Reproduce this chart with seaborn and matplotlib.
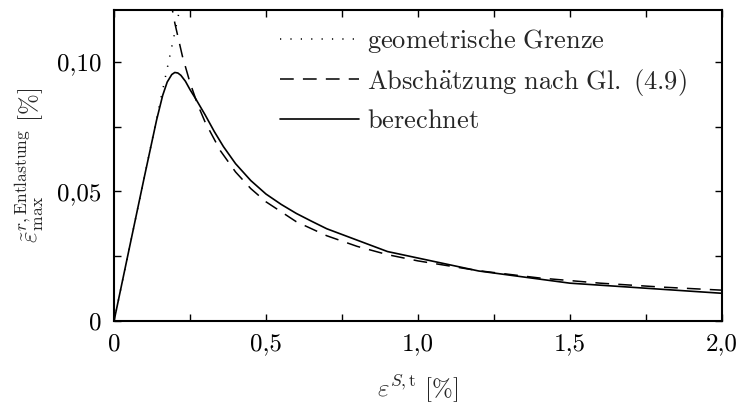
import numpy as np
import pandas as pd
import matplotlib
matplotlib.use("Agg")
import matplotlib.pyplot as plt
import seaborn as sns

# --- data ---
geo_x = [0.0, 0.22]
geo_y = [0.0, 0.1225]

est_x = [0.185, 0.20, 0.225, 0.25, 0.275, 0.30, 0.35, 0.40, 0.45, 0.50, 0.60, 0.70,
         0.80, 0.90, 1.00, 1.20, 1.40, 1.60, 1.80, 2.00]
est_y = [0.1245, 0.1150, 0.1022, 0.0920, 0.0836, 0.0767, 0.0657, 0.0575, 0.0511,
         0.0460, 0.0383, 0.0329, 0.0288, 0.0256, 0.0232, 0.0194, 0.0166, 0.0146,
         0.0131, 0.0119]

calc_x = [0.0, 0.05, 0.10, 0.14, 0.16, 0.175, 0.19, 0.20, 0.21, 0.22, 0.235, 0.25,
          0.27, 0.30, 0.33, 0.36, 0.40, 0.45, 0.50, 0.55, 0.60, 0.65, 0.70, 0.90,
          1.20, 1.50, 2.00]
calc_y = [0.0, 0.0279, 0.0557, 0.0775, 0.0870, 0.0922, 0.0951, 0.0959, 0.0957,
          0.0948, 0.0925, 0.0893, 0.0855, 0.0795, 0.0731, 0.0673, 0.0607, 0.0542,
          0.0490, 0.0450, 0.0415, 0.0385, 0.0356, 0.0268, 0.0193, 0.0146, 0.0107]

labels = [r"$\mathrm{geometrische\ Grenze}$",
          r"$\mathrm{Absch\ddot{a}tzung\ nach\ Gl.\ (4.9)}$",
          r"$\mathrm{berechnet}$"]
x_ticks = [0, 0.5, 1.0, 1.5, 2.0]
x_tick_labels = ["0", "0,5", "1,0", "1,5", "2,0"]
x_minor = [0.25, 0.75, 1.25, 1.75]
y_ticks = [0, 0.05, 0.10]
y_tick_labels = ["0", "0,05", "0,10"]
y_minor = [0.025, 0.075]

sns.set_theme(style="ticks")
plt.rcParams["font.family"] = ["cmr10", "DejaVu Serif"]
plt.rcParams["mathtext.fontset"] = "cm"
plt.rcParams["axes.unicode_minus"] = False

FS = 18

fig = plt.figure(figsize=(7.38, 4.07), dpi=100)
ax = fig.add_axes([0.1545, 0.2113, 0.8235, 0.7641])

df_geo = pd.DataFrame({"x": geo_x, "y": geo_y})
df_est = pd.DataFrame({"x": est_x, "y": est_y})
df_calc = pd.DataFrame({"x": calc_x, "y": calc_y})

sns.lineplot(data=df_geo, x="x", y="y", ax=ax, color="black", lw=1.1,
             linestyle=(0, (0.8, 6.0)), label=labels[0])
sns.lineplot(data=df_est, x="x", y="y", ax=ax, color="black", lw=1.1,
             linestyle=(0, (9, 6)), label=labels[1])
sns.lineplot(data=df_calc, x="x", y="y", ax=ax, color="black", lw=1.2,
             label=labels[2])

ax.set_xlim(0, 2.0)
ax.set_ylim(0, 0.12)
ax.set_xticks(x_ticks)
ax.set_xticklabels(x_tick_labels)
ax.set_yticks(y_ticks)
ax.set_yticklabels(y_tick_labels)
ax.set_xticks(x_minor, minor=True)
ax.set_yticks(y_minor, minor=True)

for s in ax.spines.values():
    s.set_visible(True)
    s.set_linewidth(1.5)
    s.set_color("black")

ax.tick_params(which="both", direction="in", top=True, right=True, length=5,
               width=1.0, color="black", labelsize=FS, labelcolor="black")
ax.tick_params(axis="x", which="major", pad=9)
ax.tick_params(axis="y", which="major", pad=9)

ax.set_xlabel(r"$\varepsilon^{S,\mathrm{t}}\ [\%]$", fontsize=FS, labelpad=12)
ax.set_ylabel(r"$\tilde{\varepsilon}^{r,\mathrm{Entlastung}}_{\max}\ [\%]$",
              fontsize=FS, labelpad=8)

leg = ax.legend(loc="upper left", bbox_to_anchor=(0.273, 0.946), frameon=False,
                fontsize=19, handlelength=3.0, handletextpad=0.3,
                labelspacing=0.45, borderpad=0.0, borderaxespad=0.0)

fig.savefig("out.png", dpi=100)
